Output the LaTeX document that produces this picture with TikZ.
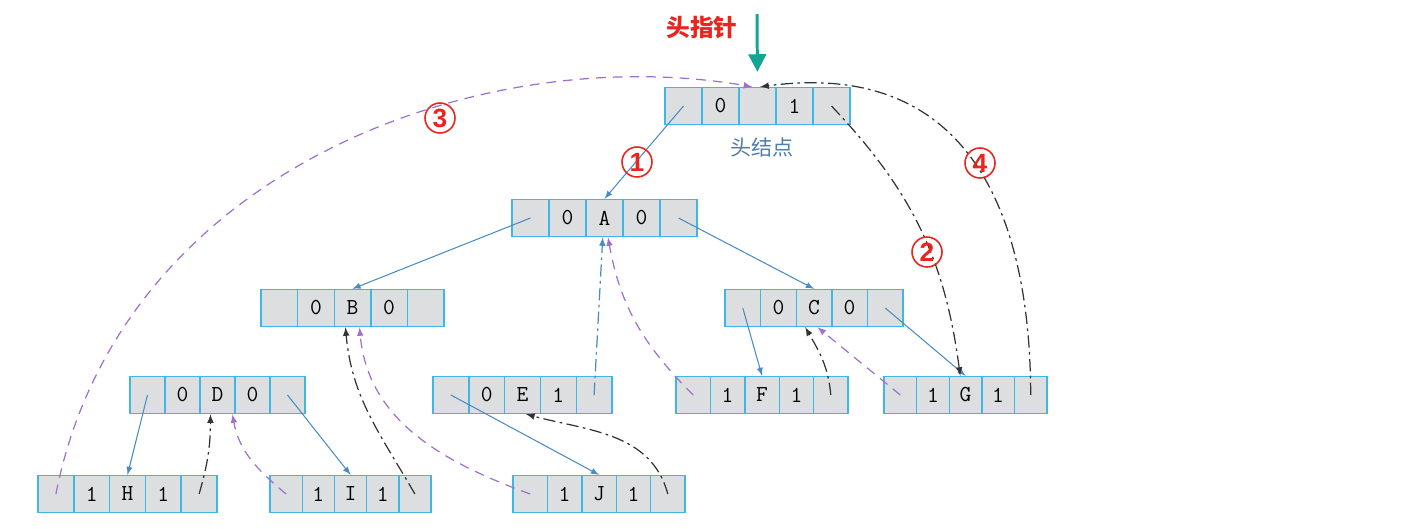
\documentclass[tikz,border=0pt]{standalone}
\usepackage{fontspec}
\setsansfont{Liberation Sans}
\newfontfamily\cjk{Noto Sans CJK SC}
\usetikzlibrary{positioning,shapes,arrows,arrows.meta}

\definecolor{cellline}{HTML}{3DB8E6}
\definecolor{cellfill}{HTML}{DCDEDF}
\definecolor{linkblue}{HTML}{4A8CC2}
\definecolor{threadgray}{HTML}{333333}
\definecolor{threadpurple}{HTML}{A070D0}
\definecolor{ptrteal}{HTML}{12A594}
\definecolor{markred}{HTML}{E8261E}
\definecolor{captionblue}{HTML}{4D7FAF}

% one record = five cells: name, left x, y, cell width, texts
\newcommand{\recnode}[5]{%
  \foreach \lbl [count=\i] in {#5}
    \node[cell, minimum width={#4*0.02cm}] (#1\i) at ({#2+(\i-0.5)*#4},#3) {\lbl};
}

\begin{document}
\begin{tikzpicture}[
    x=0.02cm, y=-0.02cm, >=latex,
    cell/.style={rectangle, draw=cellline, fill=cellfill, line width=0.8pt, minimum height=0.74cm, inner sep=0pt, font=\ttfamily\fontsize{13}{13}\selectfont},
    link/.style={->, linkblue, line width=0.6pt},
    rthread/.style={->, threadgray, line width=0.7pt, dash pattern=on 7pt off 2.5pt on 1.5pt off 2.5pt},
    bthread/.style={->, linkblue, line width=0.7pt, dash pattern=on 7pt off 2.5pt on 1.5pt off 2.5pt},
    lthread/.style={->, threadpurple, line width=0.7pt, dash pattern=on 5.5pt off 4pt},
    seqmark/.style={circle, draw=markred, text=markred, line width=0.9pt, minimum size=0.6cm, inner sep=0pt, font=\sffamily\bfseries\fontsize{15}{15}\selectfont}
]
\path[use as bounding box] (0,0) rectangle (1406,528);

% Records
\recnode{head}{665}{106}{37}{{},0,{},1,{}}
\recnode{A}{512}{218}{37}{{},0,A,0,{}}
\recnode{B}{261}{308}{36.6}{{},0,B,0,{}}
\recnode{C}{725}{308}{35.6}{{},0,C,0,{}}
\recnode{D}{130}{395}{35}{{},0,D,0,{}}
\recnode{E}{433}{395}{35.8}{{},0,E,1,{}}
\recnode{F}{676}{395}{34.4}{{},1,F,1,{}}
\recnode{G}{884}{395}{32.6}{{},1,G,1,{}}
\recnode{H}{38}{494}{35.8}{{},1,H,1,{}}
\recnode{I}{270}{494}{32.2}{{},1,I,1,{}}
\recnode{J}{513}{494}{34.4}{{},1,J,1,{}}

\node[font=\cjk\fontsize{12}{12}\selectfont, text=captionblue] (headcap) at (762,147) {头结点};

% Head pointer
\coordinate (ptr) at (757,14);
\draw[-{Triangle[length=10pt,width=10pt]}, ptrteal, line width=1.7pt, shorten >=0.3cm] (ptr) -- (head3.north);
\node[font=\cjk\bfseries\fontsize{13.5}{14}\selectfont, text=markred] (ptrlabel) at (702,28) {头指针};

% Child links
\draw[link] (head1.center) -- (A3.north);
\draw[link] (A1.center) -- (B3.north);
\draw[link] (A5.center) -- (C3.north);
\draw[link] (D1.center) -- (H3.north);
\draw[link] (D5.center) -- (I3.north);
\draw[link] (E1.center) -- (J3.north);
\draw[link] (C1.center) -- (F3.north);
\draw[link] (C5.center) -- (G3.north);

% Threads
\draw[lthread] (H1.center) .. controls (120,170) and (480,40) .. ([xshift=-3pt]head3.north);
\draw[rthread] (head5.center) to[bend left=18] ([xshift=-3pt]G3.north);
\draw[rthread] (G5.center) .. controls (1030,200) and (960,60) .. ([xshift=1.5pt]head3.north);
\draw[rthread] (H5.center) to[bend right=8] ([xshift=-4pt]D3.south);
\draw[lthread] (I1.center) to[out=140, in=-80] ([xshift=8.5pt]D3.south);
\draw[rthread] (I5.center) to[out=120, in=-85] ([xshift=-4pt]B3.south);
\draw[lthread] (J1.center) to[out=160, in=-85] ([xshift=4pt]B3.south);
\draw[rthread] (J5.center) to[out=105, in=-15] ([xshift=2pt]E3.south);
\draw[bthread] (E5.center) -- ([xshift=-1pt]A3.south);
\draw[lthread] (F1.center) to[out=135, in=-80] ([xshift=2pt]A3.south);
\draw[rthread] (F5.center) to[out=95, in=-60] ([xshift=-5pt]C3.south);
\draw[lthread] (G1.center) -- ([xshift=2pt]C3.south);

% Step numbers
\node[seqmark] (m1) at (637,162) {1};
\node[seqmark] (m2) at (927,252) {2};
\node[seqmark] (m3) at (440,118) {3};
\node[seqmark] (m4) at (980,163) {4};

\end{tikzpicture}
\end{document}
